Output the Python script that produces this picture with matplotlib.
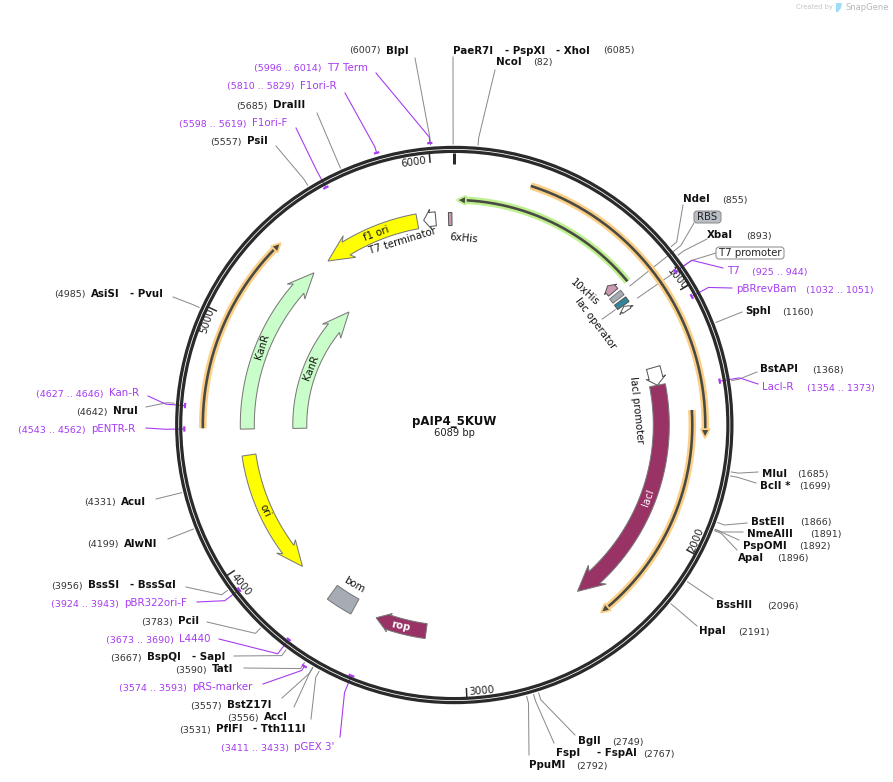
import matplotlib
matplotlib.use("Agg")
import matplotlib.pyplot as plt
from matplotlib.patches import Polygon, FancyBboxPatch, Circle
import numpy as np

plt.rcParams['font.family'] = ['DejaVu Sans']

# plasmid
plasmid_name = "pAIP4_5KUW"
plasmid_bp = 6089
tick_bp = [1000, 2000, 3000, 4000, 5000, 6000]

# restriction sites: one name group, one position
site_names = [["BlpI"], ["PaeR7I", "- PspXI", "- XhoI"], ["NcoI"], ["NdeI"], ["XbaI"], ["SphI"], ["BstAPI"],
              ["MluI"], ["BclI *"], ["BstEII"], ["NmeAIII"], ["PspOMI"], ["ApaI"], ["BssHII"], ["HpaI"],
              ["BglI"], ["FspI", "- FspAI"], ["PpuMI"], ["PflFI", "- Tth111I"], ["AccI"], ["BstZ17I"],
              ["TatI"], ["BspQI", "- SapI"], ["PciI"], ["BssSI", "- BssSαI"], ["AlwNI"], ["AcuI"],
              ["NruI"], ["AsiSI", "- PvuI"], ["PsiI"], ["DraIII"]]
site_bp = [6007, 6085, 82, 855, 893, 1160, 1368, 1685, 1699, 1866, 1891, 1892, 1896, 2096, 2191,
           2749, 2767, 2792, 3531, 3556, 3557, 3590, 3667, 3783, 3956, 4199, 4331, 4642, 4985, 5557, 5685]

# primers
primer_names = ["T7", "pBRrevBam", "LacI-R", "pGEX 3'", "pRS-marker", "L4440", "pBR322ori-F",
                "pENTR-R", "Kan-R", "F1ori-F", "F1ori-R", "T7 Term"]
primer_start = [925, 1032, 1354, 3411, 3574, 3673, 3924, 4543, 4627, 5598, 5810, 5996]
primer_end = [944, 1051, 1373, 3433, 3593, 3690, 3943, 4562, 4646, 5619, 5829, 6014]

# features on the map
feature_names = ["KanR", "KanR", "f1 ori", "ori", "rop", "lacI"]
feature_start = [4548, 4546, 5915, 4426, 3176, 1335]
feature_end = [5367, 5362, 5453, 3840, 3418, 2427]
primer_bind_start = [300, 1461, 4554, 851]
primer_bind_end = [1573, 2402, 5351, 11]

# layout, in picture pixels
site_text = [[(386, 51)], [(453, 51), (505, 51), (556, 51)], [(496, 62)], [(683, 199)], [(707, 235)],
             [(745, 311)], [(760, 369)], [(762, 474)], [(760, 486)], [(751, 522)], [(747, 534)],
             [(743, 546)], [(738, 558)], [(716, 605)], [(699, 631)], [(578, 741)],
             [(556, 753), (597, 753)], [(529, 765)], [(216, 729), (253, 729)], [(264, 717)], [(227, 705)],
             [(212, 669)], [(147, 657), (192, 657)], [(178, 621)], [(88, 585), (130, 585)], [(124, 544)],
             [(121, 502)], [(113, 411)], [(91, 294), (130, 294)], [(247, 141)], [(273, 105)]]
site_num_xy = [(349, 51), (603, 51), (533, 63), (722, 200), (746, 236), (782, 312), (812, 370), (797, 475),
               (799, 487), (800, 523), (810, 535), (799, 547), (777, 559), (767, 606), (738, 632), (612, 742),
               (643, 754), (576, 766), (179, 730), (227, 718), (190, 706), (175, 670), (110, 658), (141, 622),
               (51, 586), (87, 545), (84, 503), (76, 412), (54, 295), (210, 142), (236, 106)]
site_anchor = [(415, 58), (453, 57), (495, 70), (683, 205), (707, 239), (742, 312), (757, 372), (758, 472),
               (756, 483), (747, 523), (743, 532), (739, 540), (737, 550), (713, 599), (697, 626), (575, 735),
               (554, 743), (529, 755), (311, 719), (294, 707), (282, 698), (244, 668), (234, 656), (207, 622),
               (186, 587), (168, 539), (156, 499), (146, 407), (173, 297), (276, 146), (317, 113)]
primer_text = [(727, 271), (736, 289), (762, 387), (294, 747), (192, 687), (179, 639), (124, 603),
               (91, 429), (109, 393), (252, 123), (300, 86), (327, 68)]
primer_num_xy = [(752, 272), (806, 290), (807, 388), (221, 748), (119, 688), (106, 640), (51, 604),
                 (18, 430), (36, 394), (179, 124), (227, 87), (254, 69)]
primer_anchor = [(723, 268), (732, 288), (758, 384), (340, 737), (263, 684), (219, 639), (197, 602),
                 (146, 428), (148, 396), (296, 128), (345, 93), (376, 73)]
primer_r = [269, 270, 269, 271, 284, 271, 271, 270, 270, 270, 283, 283]

CX, CY = 454.3, 425.0
PX = 0.72  # one pixel in points at dpi 100
PURPLE = "#a63cf0"
BOLD = 7.4
NUM = 6.8
PRIM = 7.4


def pos(bp, r):
    a = 2 * np.pi * np.asarray(bp, dtype=float) / plasmid_bp
    return CX + r * np.sin(a), CY - r * np.cos(a)


fig = plt.figure(figsize=(8.93, 7.82), dpi=100)
ax = fig.add_axes([0, 0, 1, 1])
ax.set_xlim(0, 893)
ax.set_ylim(782, 0)
ax.axis('off')


def arc_arrow(start, end, r, w, head_w, head_px, fc, ec="#777777", z=3, lw=1.0):
    # arrow from start to end along the circle, head at end
    sign = 1 if end > start else -1
    head_bp = head_px / (2 * np.pi * r) * plasmid_bp
    neck = end - sign * head_bp
    b = np.linspace(start, neck, 60)
    xo, yo = pos(b, r + w / 2)
    xi, yi = pos(b, r - w / 2)
    barb = neck - sign * head_bp * 0.18
    pts = list(zip(xo, yo))
    pts.append(pos(barb, r + head_w / 2))
    pts.append(pos(end, r))
    pts.append(pos(barb, r - head_w / 2))
    pts += list(zip(xi[::-1], yi[::-1]))
    ax.add_patch(Polygon(pts, closed=True, fc=fc, ec=ec, lw=lw * PX, zorder=z, joinstyle='miter'))


def arc_box(start, end, r, w, fc, ec="#777777", z=3, lw=1.0):
    b = np.linspace(start, end, 20)
    xo, yo = pos(b, r + w / 2)
    xi, yi = pos(b, r - w / 2)
    pts = list(zip(xo, yo)) + list(zip(xi[::-1], yi[::-1]))
    ax.add_patch(Polygon(pts, closed=True, fc=fc, ec=ec, lw=lw * PX, zorder=z))


def bound_arc(start, end, r, halo, z=2):
    # thin binding arrow with a coloured glow
    sign = 1 if end > start else -1
    head_bp = 9 / (2 * np.pi * r) * plasmid_bp
    neck = end - sign * head_bp
    b = np.linspace(start, neck, 150)
    x, y = pos(b, r)
    ax.plot(x, y, color=halo, lw=7.5 * PX, solid_capstyle='butt', zorder=z)
    ax.plot(x, y, color="#4a4a44", lw=2.6 * PX, solid_capstyle='butt', zorder=z + 0.1)
    head = [pos(neck, r + 4.5), pos(end, r), pos(neck, r - 4.5)]
    ax.add_patch(Polygon(head, closed=True, fc="#4a4a44", ec=halo, lw=1.8 * PX, zorder=z + 0.2))


# backbone: two dark rings with a thin gap
for rad in (277.6, 273.6):
    ax.add_patch(Circle((CX, CY), rad, fc='none', ec="#2a2a2a", lw=3.2 * PX, zorder=4))

# ticks
for t in tick_bp:
    x, y = pos([t, t], [272, 264])
    ax.plot(x, y, color="#2a2a2a", lw=1.5 * PX, zorder=4)
x, y = pos([0, 0], [272, 261])
ax.plot(x, y, color="#2a2a2a", lw=3 * PX, solid_capstyle='butt', zorder=4)
tick_lab_xy = [(677, 279), (696, 540), (482, 691), (241, 585), (207, 321), (414, 162)]
tick_lab_rot = [-50, 68, 5, -50, 72, 8]
for t, (x, y), rot in zip(tick_bp, tick_lab_xy, tick_lab_rot):
    ax.text(x, y, str(t), fontsize=7.3, color="#222222", rotation=rot, rotation_mode='anchor',
            ha='center', va='center', zorder=5)

# restriction sites
for names, bp, txt, nxy, anc in zip(site_names, site_bp, site_text, site_num_xy, site_anchor):
    x0, y0 = pos(bp, 281)
    x1, y1 = pos(bp, 288)
    ax.plot([x0, x1, anc[0]], [y0, y1, anc[1]], color="#8a8a8a", lw=1 * PX, zorder=1)
    for nm, (tx, ty) in zip(names, txt):
        ax.text(tx, ty, nm, fontsize=BOLD, fontweight='bold', color="#111111", ha='left', va='center')
    ax.text(nxy[0], nxy[1], "(%d)" % bp, fontsize=NUM, color="#333333", ha='left', va='center')

# primers
for nm, s, e, txt, nxy, anc, r in zip(primer_names, primer_start, primer_end, primer_text, primer_num_xy,
                                       primer_anchor, primer_r):
    b = np.linspace(s, e, 8)
    x, y = pos(b, r)
    ax.plot(x, y, color=PURPLE, lw=2.2 * PX, solid_capstyle='butt', zorder=5)
    m = (s + e) / 2
    x0, y0 = pos(m, r)
    x1, y1 = pos(m, 289)
    ax.plot([x0, x1, anc[0]], [y0, y1, anc[1]], color=PURPLE, lw=1.1 * PX, zorder=3)
    ax.text(txt[0], txt[1], nm, fontsize=PRIM, color=PURPLE, ha='left', va='center')
    ax.text(nxy[0], nxy[1], "(%d .. %d)" % (s, e), fontsize=NUM, color=PURPLE, ha='left', va='center')

# binding arcs
for s, e, r in zip(primer_bind_start[:3], primer_bind_end[:3], [251, 238, 251.5]):
    bound_arc(s, e, r, "#fbcf86")
bound_arc(primer_bind_start[3], primer_bind_end[3], 225, "#bff08f")

# big features
feature_r = [207, 154.5, 207, 207.5, 208, 207]
feature_w = [14, 14, 15, 14, 15, 16]
feature_head = [23, 23, 25, 23, 19, 26]
feature_headlen = [22, 22, 22, 22, 12, 22]
feature_fc = ["#c9fdc9", "#c9fdc9", "#ffff00", "#ffff00", "#993366", "#993366"]
for s, e, r, w, hw, hl, fc in zip(feature_start, feature_end, feature_r, feature_w, feature_head,
                                  feature_headlen, feature_fc):
    arc_arrow(s, e, r, w, hw, hl, fc)

# small features
arc_box(3530, 3655, 207, 17, "#a6acb4")
arc_arrow(1250, 1335, 207, 14, 20, 7, "white", ec="#555555")
arc_arrow(6002, 5945, 207, 14, 20, 6, "white", ec="#555555")
arc_box(6062, 6078, 206, 13, "#cc99b2", ec="#555555")
arc_arrow(848, 808, 207, 12, 16, 4, "#cc99b2", ec="#555555")
arc_box(862, 888, 207, 14, "#a6acb4")
arc_box(900, 926, 207, 14, "#31859c", ec="#555555")
arc_arrow(955, 930, 207, 10, 16, 4, "white", ec="#555555")

# leaders of the small features
for bp, r0, anc in [(873, 224, (694, 223)), (935, 223, (716, 253))]:
    x0, y0 = pos(bp, r0)
    x1, y1 = pos(bp, 289)
    ax.plot([x0, x1, anc[0]], [y0, y1, anc[1]], color="#8a8a8a", lw=1 * PX, zorder=1)
x, y = pos([920, 920], [198, 182])
ax.plot(x, y, color="#8a8a8a", lw=1 * PX, zorder=1)

# boxed labels
for label, cx, cy, w, fc in [("RBS", 707.5, 217, 27, "#b9bdc5"), ("T7 promoter", 750, 253, 68, "white")]:
    ax.add_patch(FancyBboxPatch((cx - w / 2 + 3, cy - 3), w - 6, 6, boxstyle="round,pad=3,rounding_size=3",
                                fc=fc, ec="#8a8a8a", lw=1 * PX, zorder=5))
    ax.text(cx, cy, label, fontsize=7.3, color="#222222", ha='center', va='center', zorder=6)

# curved feature names
label_text = ["f1 ori", "T7 terminator", "6xHis", "KanR", "KanR", "ori", "bom", "rop", "lacI", "lacI promoter",
              "lac operator", "10xHis"]
label_xy = [(376, 234), (402, 241), (464, 238), (262, 347), (311, 368), (265, 511), (354, 585), (401, 626),
            (648, 498), (637, 410), (595, 323), (585, 292)]
label_rot = [20, 17, -5, 72, 68, -65, -30, -12, 70, -84, -53, -42]
label_col = ["#111111"] * 7 + ["white", "white"] + ["#111111"] * 3
label_wt = ["normal"] * 7 + ["bold", "normal"] + ["normal"] * 3
for t, (x, y), rot, c, wt in zip(label_text, label_xy, label_rot, label_col, label_wt):
    ax.text(x, y, t, fontsize=7.3, color=c, rotation=rot, rotation_mode='anchor', ha='center', va='center',
            fontweight=wt, zorder=6)

# centre title
ax.text(CX, 421, plasmid_name, fontsize=8.5, fontweight='bold', color="#111111", ha='center', va='center')
ax.text(CX, 433, "%d bp" % plasmid_bp, fontsize=7.2, color="#222222", ha='center', va='center')

# watermark
ax.text(796, 7, "Created by", fontsize=4.8, color="#c4c4c4", ha='left', va='center')
ax.add_patch(Polygon([(836, 3), (842, 3), (841, 8), (838, 12), (836, 12)], closed=True, fc="#9fdcf5", ec='none'))
ax.text(845, 7, "SnapGene", fontsize=6.0, color="#b4b8bc", ha='left', va='center')

fig.savefig("out.png", dpi=100)
